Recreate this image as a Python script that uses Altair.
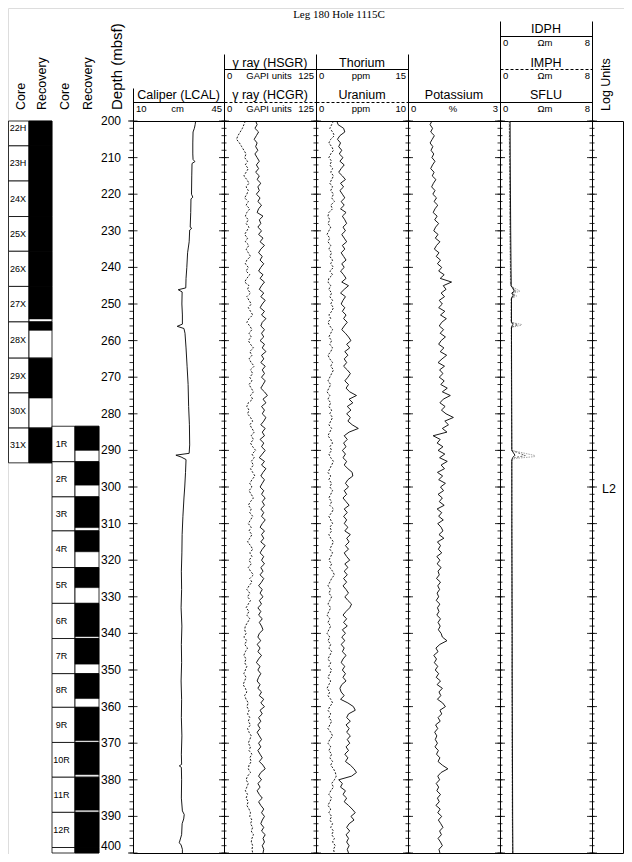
import altair as alt
import pandas as pd

# ---------------- data ----------------
core1_names = ["22H", "23H", "24X", "25X", "26X", "27X", "28X", "29X", "30X", "31X"]
core1_top = [197.2, 206.8, 216.4, 226.1, 235.6, 245.2, 254.9, 264.8, 274.3, 283.9]
core1_bot = [206.8, 216.4, 226.1, 235.6, 245.2, 254.9, 264.8, 274.3, 283.9, 293.4]
core1_rec = [9.6, 9.6, 9.7, 9.5, 9.6, 8.9, 2.3, 10.9, 0.0, 9.5]

core2_names = ["1R", "2R", "3R", "4R", "5R", "6R", "7R", "8R", "9R", "10R", "11R", "12R", "13R"]
core2_top = [283.4, 293.1, 302.7, 312.0, 322.0, 331.8, 341.4, 351.0, 360.2, 369.8, 379.3, 388.9, 398.5]
core2_bot = [293.1, 302.7, 312.0, 322.0, 331.8, 341.4, 351.0, 360.2, 369.8, 379.3, 388.9, 398.5, 408.1]
core2_rec = [6.6, 6.4, 8.4, 5.7, 5.5, 9.1, 7.0, 6.8, 9.1, 8.8, 9.0, 9.6, 9.0]

depth_grid = list(range(200, 401))

hsgr = [43, 45, 42, 47, 44, 41, 45, 43, 46, 42,
        45, 48, 44, 47, 43, 48, 45, 50, 46, 48,
        44, 49, 46, 51, 47, 45, 53, 48, 50, 46,
        51, 47, 53, 49, 55, 50, 47, 52, 49, 54,
        50, 47, 53, 49, 55, 51, 48, 54, 50, 56,
        52, 49, 55, 51, 57, 52, 50, 55, 51, 54,
        49, 55, 52, 57, 51, 54, 50, 56, 52, 55,
        51, 56, 53, 50, 55, 59, 53, 57, 51, 55,
        52, 57, 54, 50, 56, 52, 55, 49, 54, 51,
        56, 52, 48, 55, 51, 57, 53, 50, 55, 52,
        49, 54, 51, 56, 52, 55, 50, 54, 51, 56,
        52, 49, 55, 51, 54, 50, 56, 52, 49, 54,
        51, 55, 50, 53, 49, 54, 51, 47, 52, 49,
        53, 48, 51, 46, 50, 47, 52, 48, 51, 53,
        48, 46, 50, 45, 49, 46, 51, 47, 44, 49,
        46, 50, 47, 45, 49, 46, 51, 48, 54, 50,
        55, 49, 52, 47, 50, 46, 49, 45, 48, 51,
        47, 50, 46, 49, 52, 48, 53, 56, 50, 47,
        51, 46, 49, 45, 48, 52, 47, 50, 54, 51,
        55, 52, 50, 54, 51, 56, 53, 55, 52, 54,
        53]

hcgr = [29, 27, 25, 22, 19, 17, 21, 24, 27, 30,
        28, 32, 29, 33, 30, 27, 31, 34, 30, 33,
        31, 28, 33, 30, 35, 31, 29, 33, 30, 34,
        31, 28, 32, 29, 34, 30, 33, 36, 31, 29,
        33, 30, 35, 31, 28, 34, 32, 36, 31, 34,
        37, 33, 36, 39, 34, 31, 35, 38, 34, 37,
        33, 36, 40, 35, 38, 34, 37, 41, 36, 39,
        35, 38, 34, 37, 40, 36, 39, 33, 31, 34,
        32, 36, 39, 35, 38, 41, 37, 40, 36, 39,
        43, 38, 41, 37, 40, 36, 39, 42, 38, 35,
        38, 34, 37, 40, 36, 33, 37, 35, 39, 36,
        33, 37, 34, 38, 35, 32, 36, 39, 35, 38,
        34, 37, 33, 36, 40, 35, 38, 34, 31, 35,
        32, 36, 33, 30, 34, 31, 35, 32, 29, 28,
        30, 27, 31, 28, 32, 29, 27, 30, 28, 31,
        29, 27, 30, 28, 26, 29, 31, 28, 30, 33,
        31, 34, 32, 35, 33, 36, 32, 34, 37, 35,
        33, 36, 34, 38, 35, 37, 34, 33, 36, 32,
        30, 33, 31, 29, 32, 30, 33, 31, 34, 36,
        35, 38, 36, 39, 37, 40, 38, 37, 39, 38,
        39]

thorium = [3.4, 3.6, 4.5, 4.7, 3.9, 3.5, 4.0, 3.7, 4.2, 3.8,
           4.4, 3.9, 4.6, 4.1, 3.7, 4.3, 4.8, 4.0, 4.5, 3.9,
           4.3, 4.7, 4.1, 4.6, 4.0, 4.9, 4.3, 4.7, 5.0, 4.4,
           4.8, 4.2, 4.6, 5.0, 4.3, 4.7, 4.1, 4.5, 4.9, 4.2,
           4.6, 4.0, 4.5, 4.9, 4.2, 5.3, 4.6, 4.0, 4.8, 4.4,
           4.1, 4.7, 4.3, 4.9, 4.5, 5.1, 4.6, 4.2, 4.8, 5.3,
           5.7, 5.0, 5.5, 4.7, 5.2, 4.6, 5.0, 4.5, 5.1, 5.6,
           5.2, 4.7, 5.3, 4.9, 5.5, 6.6, 5.4, 6.0, 5.1, 5.7,
           5.0, 5.6, 5.2, 5.9, 6.9, 5.4, 4.6, 5.1, 4.5, 4.9,
           4.3, 4.8, 4.4, 5.0, 4.6, 5.2, 5.9, 6.0, 5.2, 4.8,
           5.3, 4.6, 5.0, 4.4, 4.9, 5.4, 4.6, 5.1, 4.5, 5.0,
           4.6, 5.2, 4.7, 5.6, 5.0, 5.4, 4.8, 5.3, 4.6, 5.0,
           5.5, 4.7, 5.2, 4.6, 5.1, 4.5, 5.0, 4.4, 4.9, 5.3,
           4.7, 5.2, 5.8, 5.5, 4.9, 4.4, 5.0, 4.5, 5.1, 4.3,
           4.8, 4.2, 4.7, 4.1, 4.6, 4.3, 4.9, 4.4, 4.1, 4.7,
           4.3, 4.8, 4.4, 4.9, 4.2, 3.9, 4.1, 4.6, 4.0, 5.2,
           6.1, 6.4, 5.3, 5.0, 5.6, 4.9, 5.4, 5.0, 5.6, 5.1,
           5.5, 4.9, 5.3, 4.7, 5.2, 4.8, 5.6, 6.2, 6.6, 5.8,
           3.7, 4.3, 4.0, 4.8, 4.4, 5.0, 4.6, 5.3, 5.9, 6.4,
           5.7, 6.2, 5.4, 5.0, 5.5, 4.9, 5.3, 5.0, 5.4, 5.1,
           5.3]

uranium = [1.9, 1.7, 1.5, 1.8, 2.0, 1.6, 1.4, 1.7, 1.9, 1.6,
           1.4, 1.7, 1.5, 1.8, 1.6, 1.9, 1.7, 1.5, 1.8, 1.6,
           1.9, 1.7, 2.0, 1.6, 1.8, 1.4, 1.3, 1.5, 1.3, 1.6,
           1.4, 1.2, 1.5, 1.3, 1.6, 1.4, 1.7, 1.5, 1.8, 1.6,
           1.9, 1.5, 1.8, 1.4, 1.3, 1.6, 1.4, 1.7, 1.5, 1.8,
           1.6, 1.9, 1.7, 1.4, 1.6, 1.3, 1.5, 1.8, 1.6, 1.4,
           1.7, 1.5, 1.8, 1.6, 1.3, 1.5, 1.8, 1.6, 1.9, 1.7,
           1.5, 1.3, 1.6, 1.4, 1.2, 1.5, 1.3, 1.6, 1.4, 1.7,
           1.5, 1.8, 1.6, 1.4, 1.7, 1.5, 1.3, 1.6, 1.8, 1.5,
           1.7, 1.4, 1.6, 1.9, 1.7, 1.5, 1.3, 1.6, 1.4, 1.7,
           1.5, 1.8, 1.6, 1.4, 1.7, 1.5, 1.9, 1.7, 1.4, 1.6,
           1.8, 1.5, 1.7, 1.4, 1.6, 1.9, 1.7, 1.5, 1.8, 1.6,
           1.4, 1.7, 1.5, 1.8, 2.0, 1.7, 1.5, 1.3, 1.6, 1.4,
           1.7, 1.5, 1.3, 1.6, 1.4, 1.2, 1.5, 1.3, 1.6, 1.4,
           1.2, 1.5, 1.3, 1.6, 1.4, 1.7, 1.5, 1.3, 1.6, 1.4,
           1.7, 1.5, 1.3, 1.6, 1.4, 1.2, 1.5, 1.3, 1.6, 1.8,
           1.5, 1.3, 1.6, 1.4, 1.7, 1.5, 1.3, 1.6, 1.8, 1.5,
           1.3, 1.6, 1.4, 1.7, 1.5, 1.8, 1.6, 1.9, 2.1, 2.2,
           2.0, 1.7, 1.9, 1.6, 1.4, 1.7, 1.5, 1.3, 1.6, 1.4,
           1.7, 1.5, 1.8, 1.6, 1.9, 1.7, 2.0, 1.8, 2.1, 1.9,
           2.0]

potassium = [0.78, 0.72, 0.80, 0.74, 0.86, 0.79, 0.72, 0.81, 0.75, 0.84,
             0.78, 0.88, 0.80, 0.74, 0.85, 0.79, 0.91, 0.83, 0.77, 0.88,
             0.81, 0.93, 0.85, 0.97, 0.88, 0.82, 0.95, 0.87, 1.00, 0.90,
             0.84, 0.98, 0.89, 1.04, 0.93, 0.86, 1.01, 0.92, 1.06, 0.96,
             1.10, 1.00, 1.18, 1.05, 1.42, 1.15, 1.24, 1.08, 1.19, 1.02,
             1.12, 1.00, 1.20, 1.06, 1.25, 1.10, 1.02, 1.16, 1.05, 1.22,
             1.08, 1.00, 1.17, 1.05, 1.26, 1.11, 0.98, 1.19, 1.03, 1.14,
             1.02, 1.18, 1.07, 1.28, 1.12, 1.38, 1.15, 1.04, 1.21, 1.09,
             1.24, 1.48, 1.20, 1.32, 1.12, 1.27, 0.82, 1.05, 0.95, 1.14,
             0.98, 1.20, 1.03, 1.28, 1.08, 1.19, 0.96, 1.13, 1.00, 1.22,
             1.06, 1.16, 0.98, 1.12, 1.02, 1.18, 0.95, 1.10, 1.00, 1.15,
             0.97, 1.08, 1.14, 1.01, 1.17, 0.96, 1.06, 0.99, 1.10, 0.94,
             1.04, 0.95, 1.08, 0.98, 1.02, 0.93, 1.06, 0.97, 1.03, 0.95,
             1.00, 0.92, 1.04, 0.96, 1.01, 0.94, 1.06, 0.98, 1.05, 0.99,
             1.08, 1.12, 1.27, 1.04, 0.91, 0.98, 0.84, 0.93, 0.86, 0.97,
             0.89, 1.00, 0.92, 1.06, 0.95, 1.12, 1.01, 1.07, 0.96, 1.13,
             1.22, 1.04, 1.10, 0.98, 1.05, 0.90, 0.97, 0.87, 0.94, 0.89,
             0.96, 0.88, 0.99, 0.93, 1.04, 0.98, 1.12, 1.30, 1.08, 0.97,
             1.03, 0.92, 1.00, 0.94, 1.06, 0.96, 1.02, 0.91, 1.05, 0.97,
             1.10, 0.99, 1.07, 1.14, 1.03, 1.09, 0.98, 1.06, 1.12, 1.01,
             1.04]

cal_depth = [200, 201, 202, 203, 206, 209, 210.5, 211.1, 211.6, 215, 220, 220.8, 221.3, 225,
             229.0, 229.3, 229.8, 233, 236, 240, 243, 245.6, 246.1, 246.7, 250, 253, 255.5,
             256.1, 256.7, 258, 262, 267, 272, 278, 283, 288.5, 290.8, 291.3, 291.8, 292.5,
             296, 300, 303, 308, 313, 318, 323, 328, 333, 338, 343, 348, 353, 358, 363, 368,
             373, 375.8, 376.2, 376.6, 380, 385, 388.5, 389.5, 390.7, 392, 395, 397.2, 397.8,
             399, 400]
cal_cm = [34.1, 33.9, 33.6, 33.1, 33.0, 33.0, 33.1, 33.8, 32.7, 32.6, 32.5, 33.0, 32.3, 32.2,
          32.0, 32.6, 31.8, 31.6, 31.0, 30.7, 30.4, 30.3, 27.4, 28.9, 28.8, 29.0, 29.0,
          27.0, 29.6, 30.0, 30.4, 30.8, 31.2, 31.4, 31.7, 31.8, 31.6, 26.5, 28.5, 30.4,
          30.2, 29.9, 29.6, 29.2, 28.9, 28.8, 28.6, 28.7, 28.5, 28.8, 28.6, 28.7, 28.5, 28.7, 28.6, 28.8,
          28.6, 28.7, 27.8, 28.6, 28.7, 28.6, 29.0, 29.7, 29.5, 28.9, 28.7, 27.8, 28.5,
          29.0, 29.0]

sflu_depth = [200, 210, 220, 230, 240, 245, 246.5, 247.0, 247.6, 248.3, 250, 255, 255.6, 256.2,
              260, 270, 280, 290, 291.3, 291.9, 292.5, 300, 310, 320, 330, 340, 350, 360, 370,
              380, 390, 400]
sflu = [0.88, 0.89, 0.91, 0.93, 0.96, 0.98, 1.25, 1.02, 1.15, 1.00, 1.00, 1.00, 1.12, 1.00,
        1.00, 1.01, 1.02, 1.03, 1.30, 1.12, 1.03, 1.03, 1.03, 1.04, 1.05, 1.06, 1.06, 1.07, 1.08,
        1.09, 1.10, 1.12]

imph_depth = [200, 215, 230, 245, 246.4, 247.0, 247.8, 248.4, 255, 255.7, 256.3, 270, 290,
              291.4, 292.0, 292.6, 310, 330, 350, 370, 390, 400]
imph = [0.82, 0.85, 0.88, 0.93, 1.40, 1.05, 1.30, 0.98, 0.97, 1.55, 0.99, 1.00, 1.02,
        2.20, 1.25, 1.02, 1.03, 1.04, 1.05, 1.06, 1.08, 1.10]

idph_depth = [200, 215, 230, 245, 246.5, 247.1, 247.8, 248.5, 255, 255.6, 255.8, 256.4, 270,
              290, 291.4, 291.7, 292.2, 292.8, 310, 330, 350, 370, 390, 400]
idph = [0.80, 0.83, 0.86, 0.91, 1.74, 1.10, 1.45, 0.97, 0.96, 1.88, 1.85, 0.98, 0.99,
        1.01, 3.04, 3.00, 1.30, 1.01, 1.02, 1.03, 1.04, 1.05, 1.07, 1.09]

depth_labels = [200, 210, 220, 230, 240, 250, 260, 270, 280, 290, 300,
                310, 320, 330, 340, 350, 360, 370, 380, 390, 400]
tick_minor = list(range(200, 401, 2))
tick_major = list(range(200, 401, 10))

log_units = ["L2"]
log_unit_depth = [300.5]

# ---------------- layout helpers ----------------
SANS = "Liberation Sans, Arial, Helvetica, sans-serif"
SERIF = "Liberation Serif, Times New Roman, serif"
ONE = pd.DataFrame({"k": [0]})


def px(x):
    return x - 8


def pr(x):
    return x - 7.5


Y = alt.Scale(domain=[200, 400], range=[px(121), px(853)], clamp=True, nice=False)

layers = []


def rule(x1, y1, x2, y2, dash=None, color="black", w=1):
    kw = dict(color=color, strokeWidth=w)
    if dash:
        kw["strokeDash"] = dash
    return alt.Chart(ONE).mark_rule(**kw).encode(
        x=alt.value(pr(x1)), y=alt.value(pr(y1)), x2=alt.value(pr(x2)), y2=alt.value(pr(y2)))


def label(txt, x, y, size=12.5, align="center", baseline="alphabetic", angle=None, font=SANS):
    kw = dict(text=txt, fontSize=size, align=align, baseline=baseline, font=font, color="black")
    if angle is not None:
        kw["angle"] = angle
    return alt.Chart(ONE).mark_text(**kw).encode(x=alt.value(px(x)), y=alt.value(px(y)))


def curve(depths, values, domain, left, right, color="black", dash=None, w=0.9):
    df = pd.DataFrame({"depth": depths, "v": values})
    kw = dict(color=color, strokeWidth=w)
    if dash:
        kw["strokeDash"] = dash
    return alt.Chart(df).mark_line(**kw).encode(
        x=alt.X("v:Q", scale=alt.Scale(domain=domain, range=[px(left), px(right)], nice=False, zero=False), axis=None),
        y=alt.Y("depth:Q", scale=Y, axis=None),
        order=alt.Order("depth:Q"),
    )


# ---------------- cores ----------------
def core_layers(names, tops, bots, recs, xl, xm, xr, xt):
    df = pd.DataFrame({"name": names, "top": tops, "bot": bots, "rec": recs})
    base = alt.Chart(df).transform_calculate(
        recbot="datum.top + datum.rec", mid="(datum.top + datum.bot) / 2")
    out = []
    out.append(base.mark_rect(fill="white", stroke="black", strokeWidth=0.8).encode(
        x=alt.value(px(xl)), x2=alt.value(px(xm)),
        y=alt.Y("top:Q", scale=Y, axis=None), y2="bot:Q"))
    out.append(base.mark_rect(fill="white", stroke="black", strokeWidth=0.8).encode(
        x=alt.value(px(xm)), x2=alt.value(px(xr)),
        y=alt.Y("top:Q", scale=Y, axis=None), y2="bot:Q"))
    out.append(base.transform_filter("datum.rec > 0").mark_rect(fill="black", stroke="black", strokeWidth=0.5).encode(
        x=alt.value(px(xm)), x2=alt.value(px(xr)),
        y=alt.Y("top:Q", scale=Y, axis=None), y2="recbot:Q"))
    out.append(base.transform_filter("datum.mid >= 200 && datum.mid <= 400").mark_text(
        fontSize=9, font=SANS, align="center", baseline="middle", color="black").encode(
        x=alt.value(px(xt)), y=alt.Y("mid:Q", scale=Y, axis=None), text="name:N"))
    return out


layers += core_layers(core1_names, core1_top, core1_bot, core1_rec, 8.5, 29, 52, 18)
layers += core_layers(core2_names, core2_top, core2_bot, core2_rec, 52, 75, 99, 61.5)

# ---------------- frame, dividers, ticks ----------------
BOTTOM = 853
RIGHT = 623
dividers = [(133, 88), (224, 54), (316, 54), (408, 54), (500, 21), (592, 21)]
for xd, ytop in dividers:
    layers.append(rule(xd, ytop, xd, BOTTOM))
layers.append(rule(RIGHT, 121, RIGHT, BOTTOM))
layers.append(rule(133, 121, RIGHT, 121))
layers.append(rule(133, BOTTOM, RIGHT, BOTTOM))

dfmin = pd.DataFrame({"d": tick_minor})
dfmaj = pd.DataFrame({"d": tick_major})
for xd, _ in dividers:
    if xd == 133:
        a1, b1, a2, b2 = xd - 3.5, xd, xd - 5, xd + 4.5
    else:
        a1, b1, a2, b2 = xd - 2.5, xd + 2.5, xd - 5, xd + 5
    layers.append(alt.Chart(dfmin).mark_rule(color="black", strokeWidth=0.8).encode(
        x=alt.value(px(a1)), x2=alt.value(px(b1)), y=alt.Y("d:Q", scale=Y, axis=None)))
    layers.append(alt.Chart(dfmaj).mark_rule(color="black", strokeWidth=0.8).encode(
        x=alt.value(px(a2)), x2=alt.value(px(b2)), y=alt.Y("d:Q", scale=Y, axis=None)))

dlab = alt.Chart(pd.DataFrame({"d": depth_labels}))
layers.append(dlab.transform_filter("datum.d < 400").mark_text(
    fontSize=12, font=SANS, align="right", baseline="middle", color="black").encode(
    x=alt.value(px(121)), y=alt.Y("d:Q", scale=Y, axis=None), text=alt.Text("d:Q", format="d")))
layers.append(dlab.transform_filter("datum.d >= 400").mark_text(
    fontSize=12, font=SANS, align="right", baseline="middle", dy=-7, color="black").encode(
    x=alt.value(px(121)), y=alt.Y("d:Q", scale=Y, axis=None), text=alt.Text("d:Q", format="d")))

layers.append(alt.Chart(pd.DataFrame({"u": log_units, "d": log_unit_depth})).mark_text(
    fontSize=12.5, font=SANS, align="center", baseline="middle", color="black").encode(
    x=alt.value(px(609)), y=alt.Y("d:Q", scale=Y, axis=None), text="u:N"))

# ---------------- curves ----------------
layers.append(curve(cal_depth, cal_cm, [10, 45], 133, 224))
layers.append(curve(depth_grid, hcgr, [0, 125], 224, 316, dash=[2, 1.5]))
layers.append(curve(depth_grid, hsgr, [0, 125], 224, 316))
layers.append(curve(depth_grid, uranium, [0, 10], 316, 408, dash=[2, 1.5]))
layers.append(curve(depth_grid, thorium, [0, 15], 316, 408))
layers.append(curve(depth_grid, potassium, [0, 3], 408, 500))
layers.append(curve(idph_depth, idph, [0, 8], 500, 592, color="#9a9a9a", dash=[1.5, 1]))
layers.append(curve(imph_depth, imph, [0, 8], 500, 592, color="#555555", dash=[2, 1.5]))
layers.append(curve(sflu_depth, sflu, [0, 8], 500, 592))

# ---------------- header ----------------
layers.append(label("Leg 180 Hole 1115C", 339, 18, size=11, font=SERIF))
for txt, x in [("Core", 21), ("Recovery", 42), ("Core", 65), ("Recovery", 88)]:
    layers.append(label(txt, x, 110, size=12.5, align="left", baseline="middle", angle=270))
layers.append(label("Depth (mbsf)", 117, 110, size=15, align="left", baseline="middle", angle=270))
layers.append(label("Log Units", 606, 111, size=12.5, align="left", baseline="middle", angle=270))

ROWS = {1: (33, 36, 45.5), 2: (66.5, 69, 78.5), 3: (99, 102, 112)}
tracks = [
    # (row, left, right, name, lo, unit, hi, dashed)
    (1, 500, 592, "IDPH", "0", "\u03a9m", "8", False),
    (2, 224, 316, "\u03b3 ray (HSGR)", "0", "GAPI units", "125", False),
    (2, 316, 408, "Thorium", "0", "ppm", "15", False),
    (2, 500, 592, "IMPH", "0", "\u03a9m", "8", True),
    (3, 133, 224, "Caliper (LCAL)", "10", "cm", "45", False),
    (3, 224, 316, "\u03b3 ray (HCGR)", "0", "GAPI units", "125", True),
    (3, 316, 408, "Uranium", "0", "ppm", "10", True),
    (3, 408, 500, "Potassium", "0", "%", "3", False),
    (3, 500, 592, "SFLU", "0", "\u03a9m", "8", False),
]
for row, l, r, name, lo, unit, hi, dashed in tracks:
    yb, yl, ys = ROWS[row]
    c = (l + r) / 2
    layers.append(label(name, c, yb, size=12.5))
    layers.append(rule(l, yl, r, yl, dash=[3, 2] if dashed else None))
    layers.append(label(lo, l + 3, ys, size=9.5, align="left"))
    layers.append(label(unit, c - 1, ys, size=9.5))
    layers.append(label(hi, r - 2, ys, size=9.5, align="right"))

chart = alt.layer(*layers).resolve_scale(x="independent").properties(
    width=616, height=846, padding=0,
    autosize=alt.AutoSizeParams(type="none"),
).configure_view(stroke=None).configure(background="white")

chart.save("out.html", embed_options={"renderer": "svg", "actions": False})
